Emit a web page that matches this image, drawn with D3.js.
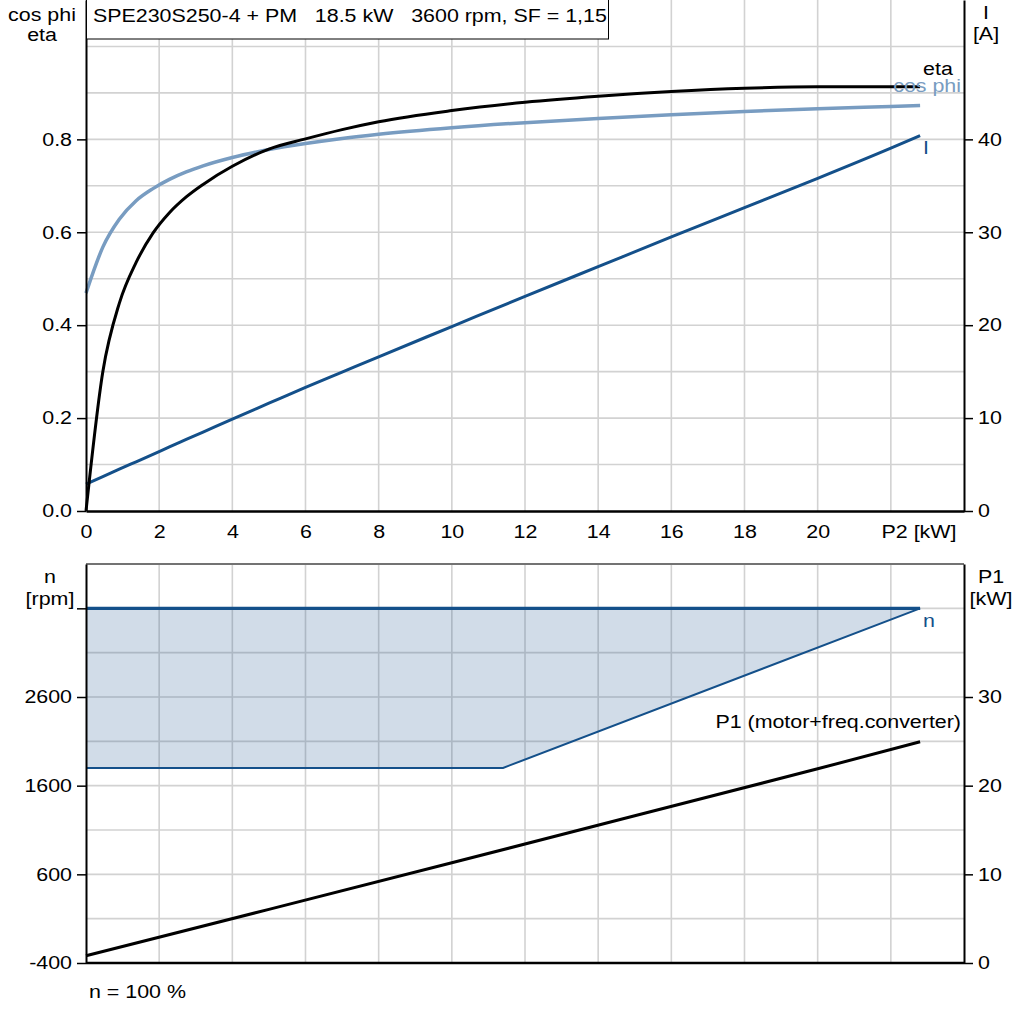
<!DOCTYPE html>
<html>
<head>
<meta charset="utf-8">
<script src="https://cdn.jsdelivr.net/npm/d3@7"></script>
<style>
  html, body { margin: 0; padding: 0; background: #fff; }
  svg { display: block; font-family: "Liberation Sans", Arial, sans-serif; }
  text { white-space: pre; }
</style>
</head>
<body>
<div id="chart"></div>
<script>
// P2 shaft power [kW] grid for the upper curves
const p2 = [0, 0.46, 0.91, 1.37, 1.83, 2.28, 2.74, 3.2, 4, 5, 6, 7, 8, 10, 12, 14, 16, 18, 20, 22, 22.8]
const eta = [0, 0.30, 0.447, 0.535, 0.598, 0.642, 0.676, 0.703, 0.742, 0.779, 0.801, 0.821, 0.838, 0.862, 0.880, 0.893, 0.903, 0.910, 0.913, 0.913, 0.913]
const cosPhi = [0.469, 0.568, 0.628, 0.668, 0.694, 0.714, 0.730, 0.743, 0.761, 0.778, 0.791, 0.802, 0.811, 0.825, 0.836, 0.845, 0.853, 0.860, 0.866, 0.871, 0.873]
const current = [2.9, 3.7, 4.5, 5.3, 6.1, 6.9, 7.7, 8.5, 9.9, 11.6, 13.3, 14.95, 16.6, 19.85, 23.1, 26.3, 29.5, 32.65, 35.8, 39.05, 40.4]

// lower plot: speed range and input power
const nMaxP2 = [0, 22.8]
const nMax = [3600, 3600]
const nMinP2 = [0, 11.4, 22.8]
const nMin = [1800, 1800, 3600]
const p1P2 = [0, 5, 10, 15, 20, 22.8]
const p1 = [0.82, 6.05, 11.3, 16.6, 21.9, 24.95]

// ticks
const xTicks = [0, 2, 4, 6, 8, 10, 12, 14, 16, 18, 20]
const xGrid = [2, 4, 6, 8, 10, 12, 14, 16, 18, 20, 22]
const etaTicks = [0, 0.2, 0.4, 0.6, 0.8]
const etaGrid = [0.1, 0.2, 0.3, 0.4, 0.5, 0.6, 0.7, 0.8, 0.9, 1.0]
const iTicks = [0, 10, 20, 30, 40]
const nTicks = [-400, 600, 1600, 2600, 3600]
const p1Ticks = [0, 10, 20, 30]
const p1Grid = [5, 10, 15, 20, 25, 30, 35, 40]

const W = 1024, H = 1024
const SX = 1.19
const FS = "18px"
const cEta = "#000000", cCos = "#789cc1", cI = "#14508a"
const gridColor = "#d2d2d2"

const svg = d3.select("#chart").append("svg")
  .attr("width", W).attr("height", H)
  .attr("viewBox", [0, 0, W, H])

const x = d3.scaleLinear().domain([0, 24]).range([86, 964])
const yEta = d3.scaleLinear().domain([0, 1.1]).range([511, 0])
const yI = d3.scaleLinear().domain([0, 55]).range([511, 0])
const yP1 = d3.scaleLinear().domain([0, 45]).range([963, 564])
const yN = d3.scaleLinear().domain([-400, 4100]).range([963, 564])

// stretched text helper (the reference font is wide)
function label(g, px, py, s, anchor, color) {
  return g.append("text")
    .attr("transform", `translate(${px},${py}) scale(${SX},1)`)
    .attr("text-anchor", anchor || "start")
    .attr("font-size", FS)
    .attr("fill", color || "#000")
    .text(s)
}

function styleAxis(g) {
  g.select(".domain").attr("stroke", "#000").attr("stroke-width", 2)
  g.selectAll(".tick line").attr("stroke", "#000").attr("stroke-width", 1.5)
  g.selectAll("text")
    .attr("font-size", FS)
    .attr("font-family", "Liberation Sans, Arial, sans-serif")
    .attr("fill", "#000")
    .each(function() {
      const t = d3.select(this)
      const tx = +t.attr("x") || 0
      t.attr("x", tx / SX).attr("transform", `scale(${SX},1)`)
    })
}

// ---------- upper plot ----------
const upper = svg.append("g")

upper.append("g").selectAll("line").data(xGrid).join("line")
  .attr("x1", d => x(d)).attr("x2", d => x(d))
  .attr("y1", 0).attr("y2", 511)
  .attr("stroke", gridColor).attr("stroke-width", 1.6)

upper.append("g").selectAll("line").data(etaGrid).join("line")
  .attr("x1", 86).attr("x2", 964)
  .attr("y1", d => yEta(d)).attr("y2", d => yEta(d))
  .attr("stroke", gridColor).attr("stroke-width", 1.6)

const idx = d3.range(p2.length)

upper.append("path")
  .datum(idx)
  .attr("fill", "none").attr("stroke", cI).attr("stroke-width", 3)
  .attr("d", d3.line().x(i => x(p2[i])).y(i => yI(current[i])).curve(d3.curveMonotoneX))

upper.append("path")
  .datum(idx)
  .attr("fill", "none").attr("stroke", cCos).attr("stroke-width", 3.5)
  .attr("d", d3.line().x(i => x(p2[i])).y(i => yEta(cosPhi[i])).curve(d3.curveMonotoneX))

upper.append("path")
  .datum(idx)
  .attr("fill", "none").attr("stroke", cEta).attr("stroke-width", 3)
  .attr("d", d3.line().x(i => x(p2[i])).y(i => yEta(eta[i])).curve(d3.curveMonotoneX))

const upperLeft = upper.append("g").attr("transform", "translate(86,0)")
  .call(d3.axisLeft(yEta).tickValues(etaTicks).tickFormat(d3.format(".1f")).tickSize(9).tickSizeOuter(0).tickPadding(5))
styleAxis(upperLeft)

const upperRight = upper.append("g").attr("transform", "translate(964,0)")
  .call(d3.axisRight(yI).tickValues(iTicks).tickSize(9).tickSizeOuter(0).tickPadding(5))
styleAxis(upperRight)

const upperBottom = upper.append("g").attr("transform", "translate(0,511)")
  .call(d3.axisBottom(x).tickValues(xTicks).tickSize(0).tickSizeOuter(0).tickPadding(14))
styleAxis(upperBottom)
upperBottom.select(".domain").attr("stroke-width", 2.5)

label(upper, 919, 538, "P2 [kW]", "middle")

// curve labels
const last = p2.length - 1
label(upper, x(p2[last]) + 3, yEta(eta[last]) - 12, "eta", "start", cEta)
label(upper, 961, yEta(eta[last]) + 5, "cos phi", "end", cCos)
label(upper, x(p2[last]) + 3, yI(current[last]) + 18, "I", "start", cI)

// axis headers
label(upper, 42, 21, "cos phi", "middle")
label(upper, 42, 41, "eta", "middle")
label(upper, 986, 19, "I", "middle")
label(upper, 986, 40, "[A]", "middle")

// title box
upper.append("rect")
  .attr("x", 86.5).attr("y", -1).attr("width", 522).attr("height", 40)
  .attr("fill", "#fff").attr("stroke", "#000").attr("stroke-width", 1)
label(upper, 93, 22, "SPE230S250-4 + PM   18.5 kW   3600 rpm, SF = 1,15", "start")

// ---------- lower plot ----------
const lower = svg.append("g")

lower.append("g").selectAll("line").data(xGrid).join("line")
  .attr("x1", d => x(d)).attr("x2", d => x(d))
  .attr("y1", 564).attr("y2", 963)
  .attr("stroke", gridColor).attr("stroke-width", 1.6)

lower.append("g").selectAll("line").data(p1Grid).join("line")
  .attr("x1", 86).attr("x2", 964)
  .attr("y1", d => yP1(d)).attr("y2", d => yP1(d))
  .attr("stroke", gridColor).attr("stroke-width", 1.6)

lower.append("line")
  .attr("x1", 86).attr("x2", 964).attr("y1", 564).attr("y2", 564)
  .attr("stroke", "#737373").attr("stroke-width", 2)

const nMaxAt = d3.scaleLinear().domain(nMaxP2).range(nMax)
const bandIdx = d3.range(nMinP2.length)

lower.append("path")
  .datum(bandIdx)
  .attr("fill", "#1b508c").attr("fill-opacity", 0.2)
  .attr("d", d3.area()
    .x(i => x(nMinP2[i]))
    .y0(i => yN(nMin[i]))
    .y1(i => yN(nMaxAt(nMinP2[i]))))

lower.append("path")
  .datum(bandIdx)
  .attr("fill", "none").attr("stroke", cI).attr("stroke-width", 2)
  .attr("d", d3.line().x(i => x(nMinP2[i])).y(i => yN(nMin[i])))

lower.append("path")
  .datum(d3.range(nMaxP2.length))
  .attr("fill", "none").attr("stroke", cI).attr("stroke-width", 3.2)
  .attr("d", d3.line().x(i => x(nMaxP2[i])).y(i => yN(nMax[i])))

lower.append("path")
  .datum(d3.range(p1P2.length))
  .attr("fill", "none").attr("stroke", "#000").attr("stroke-width", 3)
  .attr("d", d3.line().x(i => x(p1P2[i])).y(i => yP1(p1[i])))

const lowerLeft = lower.append("g").attr("transform", "translate(86,0)")
  .call(d3.axisLeft(yN).tickValues(nTicks).tickFormat(d => d === 3600 ? "" : d).tickSize(9).tickSizeOuter(0).tickPadding(5))
styleAxis(lowerLeft)

const lowerRight = lower.append("g").attr("transform", "translate(964,0)")
  .call(d3.axisRight(yP1).tickValues(p1Ticks).tickSize(9).tickSizeOuter(0).tickPadding(5))
styleAxis(lowerRight)

lower.append("line")
  .attr("x1", 86).attr("x2", 964).attr("y1", 963).attr("y2", 963)
  .attr("stroke", "#000").attr("stroke-width", 2.5)

label(lower, 50, 583, "n", "middle")
label(lower, 50, 605, "[rpm]", "middle")
label(lower, 991, 583, "P1", "middle")
label(lower, 991, 605, "[kW]", "middle")

const nLast = nMaxP2.length - 1
label(lower, x(nMaxP2[nLast]) + 3, yN(nMax[nLast]) + 19, "n", "start", cI)
label(lower, 961, yP1(p1[p1.length - 1]) - 14, "P1 (motor+freq.converter)", "end", "#000")

label(lower, 89, 998, "n = 100 %", "start")
</script>
</body>
</html>
